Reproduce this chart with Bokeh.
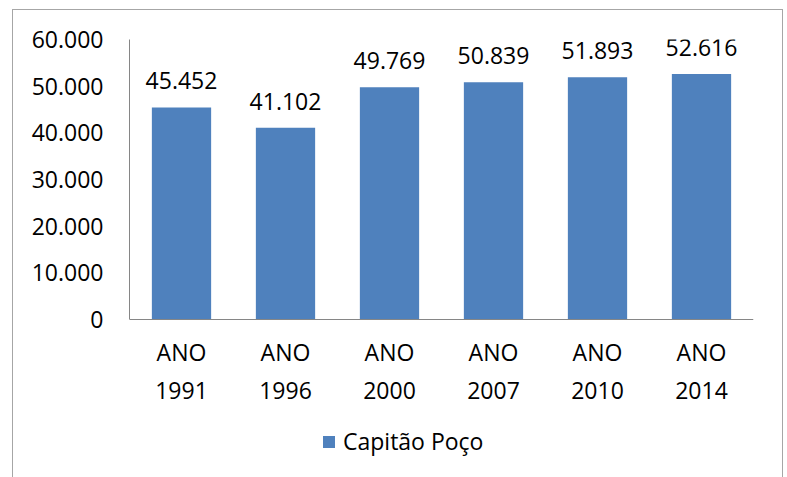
from bokeh.plotting import figure
from bokeh.models import ColumnDataSource, LabelSet, Legend, LegendItem, FixedTicker
from bokeh.core.properties import value
from bokeh.embed import file_html
from bokeh.resources import INLINE

categories = ["ANO\n1991", "ANO\n1996", "ANO\n2000", "ANO\n2007", "ANO\n2010", "ANO\n2014"]
values = [45452, 41102, 49769, 50839, 51893, 52616]
value_labels = ["45.452", "41.102", "49.769", "50.839", "51.893", "52.616"]
series_name = "Capitão Poço"
y_ticks = [0, 10000, 20000, 30000, 40000, 50000, 60000]
y_tick_labels = ["0", "10.000", "20.000", "30.000", "40.000", "50.000", "60.000"]

FONT = "Open Sans"
FS = "23px"

src = ColumnDataSource(dict(cat=categories, val=values, lab=value_labels))

# frame extends below zero so the category labels and legend sit inside it
p = figure(x_range=categories, y_range=(-33857, 60000), width=769, height=467,
           output_backend="svg", toolbar_location=None,
           min_border_left=116, min_border_right=29, min_border_top=29, min_border_bottom=0)
p.styles = {"outline": "1px solid #a6a6a6", "margin-left": "13px", "margin-top": "10px"}
p.outline_line_color = None
p.xgrid.grid_line_color = None
p.ygrid.grid_line_color = None
p.background_fill_color = "white"
p.border_fill_color = "white"

r = p.vbar(x="cat", top="val", width=0.57, source=src, fill_color="#4F81BD", line_color=None)

p.yaxis.ticker = FixedTicker(ticks=y_ticks)
p.yaxis.bounds = (0, 60000)
p.yaxis.major_label_overrides = {t: l for t, l in zip(y_ticks, y_tick_labels)}
p.yaxis.major_tick_line_color = None
p.yaxis.minor_tick_line_color = None
p.yaxis.axis_line_color = "#868686"
p.yaxis.major_label_standoff = 20
p.yaxis.major_label_text_font = FONT
p.yaxis.major_label_text_font_size = FS
p.yaxis.major_label_text_color = "black"

p.xaxis.fixed_location = 0
p.xaxis.major_tick_line_color = None
p.xaxis.axis_line_color = "#868686"
p.xaxis.major_label_standoff = 10
p.xaxis.major_label_text_font = FONT
p.xaxis.major_label_text_font_size = FS
p.xaxis.major_label_text_color = "black"

labels = LabelSet(x="cat", y="val", text="lab", source=src, text_align="center",
                  text_baseline="alphabetic", y_offset=18, text_font=value(FONT),
                  text_font_size=value(FS), text_color="black")
p.add_layout(labels)

legend = Legend(items=[LegendItem(label=series_name, renderers=[r])],
                location=(192, 20), orientation="horizontal", padding=0, margin=0,
                border_line_color=None,
                background_fill_alpha=0, glyph_width=15, glyph_height=15,
                label_standoff=7, label_text_font=FONT, label_text_font_size=FS,
                label_text_color="black", label_height=15)
p.add_layout(legend, "center")

open("out.html", "w").write(file_html(p, INLINE))
